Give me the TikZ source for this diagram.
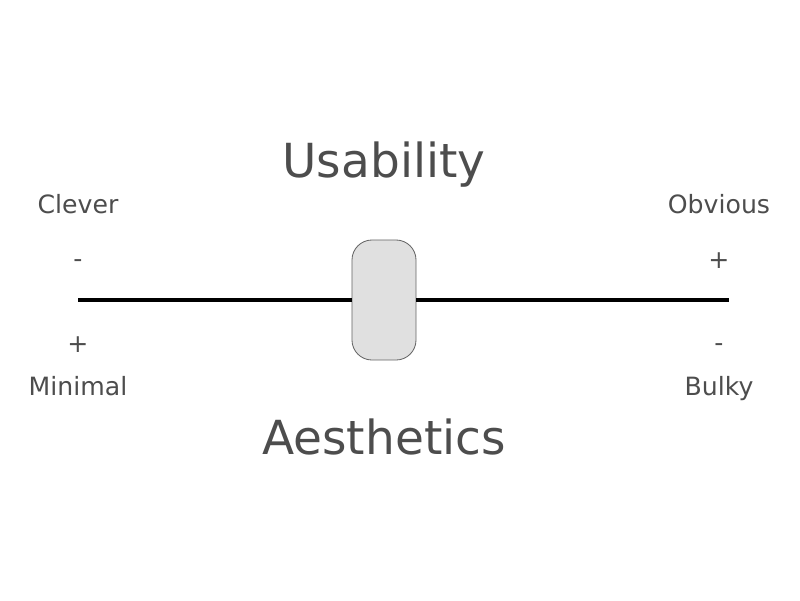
\documentclass[tikz,border=0pt]{standalone}
\usepackage{fontspec}
\setmainfont{DejaVu Sans}
\definecolor{labelgray}{HTML}{4D4D4D}
\definecolor{knobfill}{HTML}{E0E0E0}
\definecolor{knobedge}{HTML}{666666}
\tikzset{
  small label/.style={text=labelgray, font=\fontsize{17.9}{20}\selectfont, anchor=base, inner sep=0pt},
  big label/.style={text=labelgray, font=\fontsize{33.4}{38}\selectfont, anchor=base, inner sep=0pt},
  knob/.style={draw=knobedge, fill=knobfill, line width=0.6pt, rounded corners=0.5cm,
    minimum width=1.6cm, minimum height=3cm, inner sep=0pt}
}
\begin{document}
\begin{tikzpicture}[x=0.025cm, y=-0.025cm]
        % Canvas, 800 x 600
        \useasboundingbox (0,0) rectangle (800,600);
        % Ends of the slider track
        \coordinate (lend) at (78,300);
        \coordinate (rend) at (729,300);
        % Slider knob in the middle
        \node[knob] (knob) at (384,300) {};
        \draw[line width=2.4pt] (lend) -- (knob);
        \draw[line width=2.4pt] (knob) -- (rend);
        % Axis titles
        \node[big label] (usab) at (384,177) {Usability};
        \node[big label] (aest) at (384,454) {Aesthetics};
        % Left end labels
        \node[small label] (clever) at (78,213) {Clever};
        \node[small label] (lminus) at (78,267) {-};
        \node[small label] (lplus) at (78,352) {+};
        \node[small label] (minimal) at (78,395) {Minimal};
        % Right end labels
        \node[small label] (obvious) at (719,213) {Obvious};
        \node[small label] (rplus) at (719,268) {+};
        \node[small label] (rminus) at (719,351) {-};
        \node[small label] (bulky) at (719,395) {Bulky};
\end{tikzpicture}
\end{document}
